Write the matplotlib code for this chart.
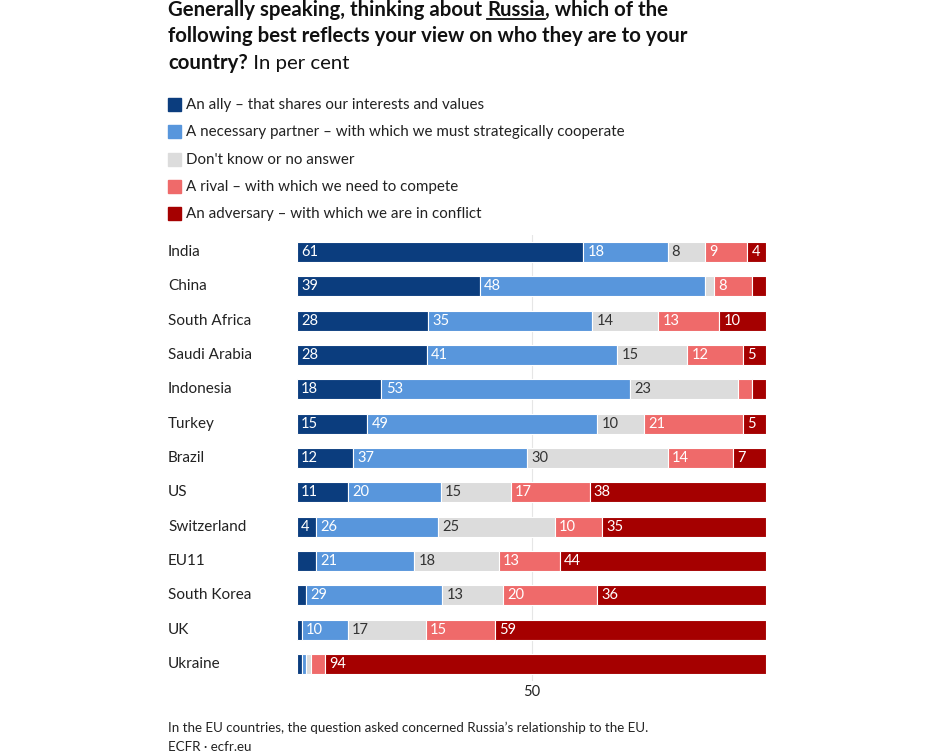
import matplotlib
matplotlib.use("Agg")
import matplotlib.pyplot as plt
from matplotlib.patches import Rectangle
from matplotlib.lines import Line2D

plt.rcParams['font.family'] = ['Lato', 'DejaVu Sans']

countries = ["India", "China", "South Africa", "Saudi Arabia", "Indonesia", "Turkey",
             "Brazil", "US", "Switzerland", "EU11", "South Korea", "UK", "Ukraine"]
ally = [61, 39, 28, 28, 18, 15, 12, 11, 4, 4, 2, 1, 1]
partner = [18, 48, 35, 41, 53, 49, 37, 20, 26, 21, 29, 10, 1]
dontknow = [8, 2, 14, 15, 23, 10, 30, 15, 25, 18, 13, 17, 1]
rival = [9, 8, 13, 12, 3, 21, 14, 17, 10, 13, 20, 15, 3]
adversary = [4, 3, 10, 5, 3, 5, 7, 38, 35, 44, 36, 59, 94]

series_names = ["An ally \u2013 that shares our interests and values",
                "A necessary partner \u2013 with which we must strategically cooperate",
                "Don't know or no answer",
                "A rival \u2013 with which we need to compete",
                "An adversary \u2013 with which we are in conflict"]
colors = ["#0b3d7e", "#5896dc", "#dcdcdc", "#ef6a6a", "#a50000"]
label_colors = ["white", "white", "#333333", "white", "white"]
hidden_labels = {("EU11", 0)}

series = [ally, partner, dontknow, rival, adversary]

W, H = 928, 753
fig = plt.figure(figsize=(W / 100, H / 100), dpi=100)

def fx(px):
    return px / W

def fy(py):
    return 1 - py / H

# axes placement
ax = fig.add_axes([fx(297), fy(681.2), fx(469), (681.2 - 234.8) / H])
n = len(countries)
ax.set_xlim(0, 100)
ax.set_ylim(n - 0.5, -0.5)
ax.axvline(50, color="#e6e6e6", lw=0.8, zorder=0)

for i, c in enumerate(countries):
    row = [s[i] for s in series]
    tot = sum(row)
    left = 0
    for j, v in enumerate(row):
        w = v * 100 / tot
        ax.barh(i, w, left=left, height=0.58, color=colors[j],
                edgecolor="white", linewidth=0.8, zorder=2)
        if v >= 4 and (c, j) not in hidden_labels:
            ax.text(left + 0.9, i, str(v), va="center", ha="left",
                    color=label_colors[j], fontsize=10.5, zorder=3)
        left += w

ax.set_yticks(range(n))
ax.set_yticklabels([])
ax.set_xticks([50])
ax.set_xticklabels(["50"], fontsize=10.5, color="#222222")
ax.tick_params(axis="x", length=0, pad=3)
ax.tick_params(axis="y", length=0)
for s in ax.spines.values():
    s.set_visible(False)

for i, c in enumerate(countries):
    ax.text(fx(168), i, c, transform=matplotlib.transforms.blended_transform_factory(fig.transFigure, ax.transData),
            ha="left", va="center", fontsize=11, color="#222222")

# legend
leg_y = [104, 131, 159, 186, 213]
for j, name in enumerate(series_names):
    fig.patches.append(Rectangle((fx(168), fy(leg_y[j] + 6.5)), fx(13), 13 / H,
                                 transform=fig.transFigure, color=colors[j]))
    fig.text(fx(186), fy(leg_y[j] + 1), name, ha="left", va="center", fontsize=10.9, color="#222222")

# title
renderer = fig.canvas.get_renderer()
tsize = 14.7

def put(x, y, s, weight):
    t = fig.text(x, y, s, ha="left", va="baseline", fontsize=tsize, fontweight=weight, color="#111111")
    bb = t.get_window_extent(renderer=renderer)
    return t, bb

x0 = fx(168)
t1, bb1 = put(x0, fy(15.5), "Generally speaking, thinking about ", "bold")
t2, bb2 = put(bb1.x1 / W, fy(15.5), "Russia", "bold")
t3, bb3 = put(bb2.x1 / W, fy(15.5), ", which of the", "bold")
fig.lines.append(Line2D([bb2.x0 / W, bb2.x1 / W], [fy(19), fy(19)],
                        transform=fig.transFigure, color="#111111", lw=1.3))
put(x0, fy(42.5), "following best reflects your view on who they are to your", "bold")
t4, bb4 = put(x0, fy(69), "country?", "bold")
put(bb4.x1 / W, fy(69), " In per cent", "normal")

# footer
fig.text(fx(168), fy(728), "In the EU countries, the question asked concerned Russia\u2019s relationship to the EU.",
         ha="left", va="center", fontsize=9.6, color="#222222")
fig.text(fx(168), fy(747), "ECFR \u00b7 ecfr.eu", ha="left", va="center", fontsize=9.6, color="#222222")

fig.savefig("out.png", dpi=100)
